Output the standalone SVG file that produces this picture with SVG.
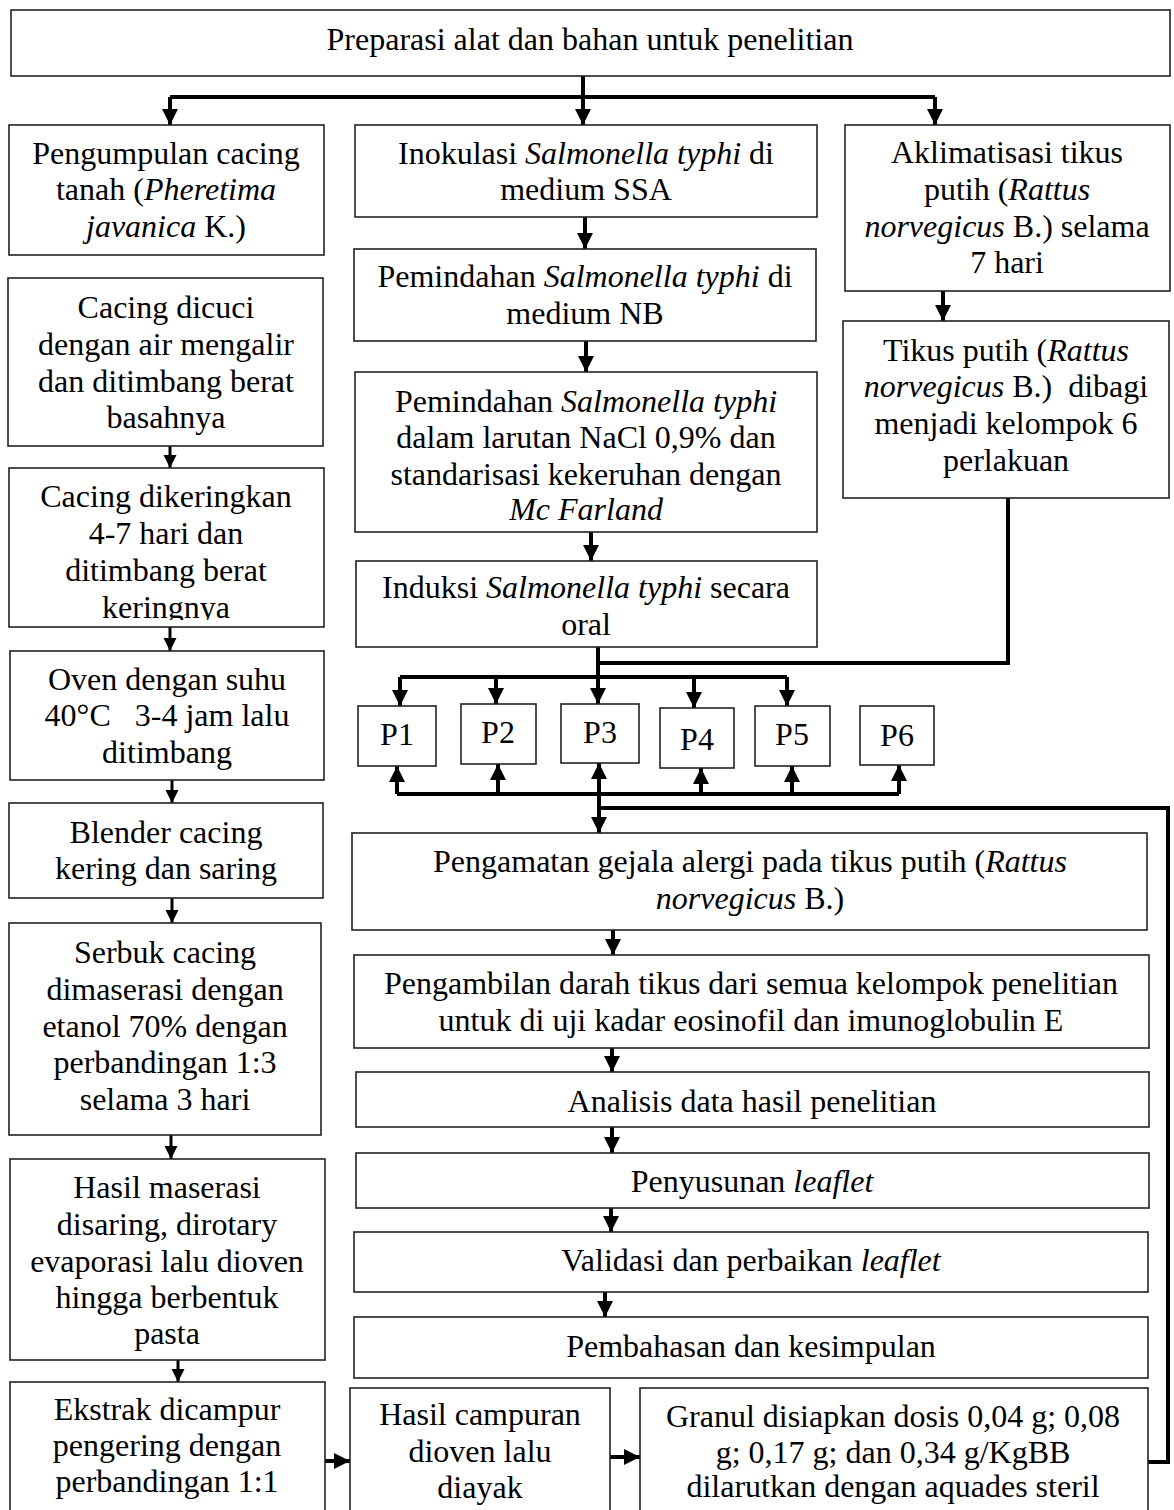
<svg xmlns="http://www.w3.org/2000/svg" width="1174" height="1510" viewBox="0 0 1174 1510">
<style>
  .box { fill: #ffffff; stroke: #222222; stroke-width: 1.6; }
  .t { font-family: "Liberation Serif", "Times New Roman", serif; font-size: 32px; fill: #000000; text-anchor: middle; }
  .i { font-style: italic; }
  .c { fill: none; stroke: #000000; stroke-width: 4; }
  .a { fill: none; stroke: #000000; stroke-width: 4; marker-end: url(#ah); }
  .as { fill: none; stroke: #000000; stroke-width: 3; marker-end: url(#ahs); }
</style>
<defs>
  <marker id="ah" markerWidth="17" markerHeight="18" refX="16" refY="9" orient="auto" markerUnits="userSpaceOnUse">
    <path d="M0,1 L16,9 L0,17 z" fill="#000"/>
  </marker>
  <marker id="ahs" markerWidth="14" markerHeight="14" refX="13" refY="7" orient="auto" markerUnits="userSpaceOnUse">
    <path d="M0,0.5 L13,7 L0,13.5 z" fill="#000"/>
  </marker>
  <clipPath id="clip3"><rect x="9" y="468" width="315" height="152"/></clipPath>
</defs>
<rect x="0" y="0" width="1174" height="1510" fill="#ffffff"/>

<g id="connectors">
  <path class="c" d="M583,76 V97"/>
  <path class="c" d="M170,97 H935"/>
  <path class="a" d="M170,97 V125"/>
  <path class="a" d="M583,97 V125"/>
  <path class="a" d="M935,97 V125"/>
  <path class="a" d="M585,217 V249"/>
  <path class="a" d="M586,341 V372"/>
  <path class="a" d="M591,532 V561"/>
  <path class="c" d="M598,647 V677"/>
  <path class="a" d="M943,291 V321"/>
  <path class="c" d="M1008,498 V663 H598"/>
  <path class="c" d="M400,677 H787"/>
  <path class="a" d="M400,677 V706"/>
  <path class="a" d="M496,677 V704"/>
  <path class="a" d="M598,677 V704"/>
  <path class="a" d="M694,677 V708"/>
  <path class="a" d="M787,677 V706"/>
  <path class="c" d="M397,794 H899"/>
  <path class="a" d="M397,794 V766"/>
  <path class="a" d="M498,794 V764"/>
  <path class="a" d="M599,794 V763"/>
  <path class="a" d="M701,794 V768"/>
  <path class="a" d="M792,794 V766"/>
  <path class="a" d="M899,794 V765"/>
  <path class="c" d="M1148,1462 H1168 V808 H599"/>
  <path class="a" d="M599,794 V833"/>
  <path class="as" d="M170,446 V468"/>
  <path class="as" d="M170,627 V651"/>
  <path class="as" d="M172,780 V803"/>
  <path class="as" d="M172,898 V923"/>
  <path class="as" d="M171,1135 V1159"/>
  <path class="as" d="M178,1360 V1382"/>
  <path class="a" d="M325,1461 H350"/>
  <path class="a" d="M610,1457 H640"/>
  <path class="a" d="M613,930 V955"/>
  <path class="a" d="M612,1048 V1072"/>
  <path class="a" d="M612,1127 V1153"/>
  <path class="a" d="M611,1208 V1232"/>
  <path class="a" d="M605,1292 V1317"/>
</g>

<g id="n-top">
  <rect class="box" x="11" y="10" width="1159" height="66"/>
  <text class="t" x="590" y="50">Preparasi alat dan bahan untuk penelitian</text>
</g>

<g id="n-l1">
  <rect class="box" x="9" y="125" width="315" height="130"/>
  <text class="t" x="166" y="164">Pengumpulan cacing</text>
  <text class="t" x="166" y="200">tanah (<tspan class="i">Pheretima</tspan></text>
  <text class="t" x="166" y="237"><tspan class="i">javanica</tspan> K.)</text>
</g>

<g id="n-l2">
  <rect class="box" x="8" y="278" width="315" height="168"/>
  <text class="t" x="166" y="318">Cacing dicuci</text>
  <text class="t" x="166" y="355">dengan air mengalir</text>
  <text class="t" x="166" y="392">dan ditimbang berat</text>
  <text class="t" x="166" y="428">basahnya</text>
</g>

<g id="n-l3">
  <rect class="box" x="9" y="468" width="315" height="159"/>
  <g clip-path="url(#clip3)">
    <text class="t" x="166" y="507">Cacing dikeringkan</text>
    <text class="t" x="166" y="544">4-7 hari dan</text>
    <text class="t" x="166" y="581">ditimbang berat</text>
    <text class="t" x="166" y="618">keringnya</text>
  </g>
</g>

<g id="n-l4">
  <rect class="box" x="10" y="651" width="314" height="129"/>
  <text class="t" x="167" y="690">Oven dengan suhu</text>
  <text class="t" x="167" y="726" style="white-space:pre">40°C   3-4 jam lalu</text>
  <text class="t" x="167" y="763">ditimbang</text>
</g>

<g id="n-l5">
  <rect class="box" x="9" y="803" width="314" height="95"/>
  <text class="t" x="166" y="843">Blender cacing</text>
  <text class="t" x="166" y="879">kering dan saring</text>
</g>

<g id="n-l6">
  <rect class="box" x="9" y="923" width="312" height="212"/>
  <text class="t" x="165" y="963">Serbuk cacing</text>
  <text class="t" x="165" y="1000">dimaserasi dengan</text>
  <text class="t" x="165" y="1037">etanol 70% dengan</text>
  <text class="t" x="165" y="1073">perbandingan 1:3</text>
  <text class="t" x="165" y="1110">selama 3 hari</text>
</g>

<g id="n-l7">
  <rect class="box" x="10" y="1159" width="315" height="201"/>
  <text class="t" x="167" y="1198">Hasil maserasi</text>
  <text class="t" x="167" y="1235">disaring, dirotary</text>
  <text class="t" x="167" y="1272">evaporasi lalu dioven</text>
  <text class="t" x="167" y="1308">hingga berbentuk</text>
  <text class="t" x="167" y="1344">pasta</text>
</g>

<g id="n-l8">
  <rect class="box" x="10" y="1382" width="315" height="140"/>
  <text class="t" x="167" y="1420">Ekstrak dicampur</text>
  <text class="t" x="167" y="1456">pengering dengan</text>
  <text class="t" x="167" y="1492">perbandingan 1:1</text>
</g>

<g id="n-m1">
  <rect class="box" x="355" y="125" width="462" height="92"/>
  <text class="t" x="586" y="164">Inokulasi <tspan class="i">Salmonella typhi</tspan> di</text>
  <text class="t" x="586" y="200">medium SSA</text>
</g>

<g id="n-m2">
  <rect class="box" x="354" y="249" width="462" height="92"/>
  <text class="t" x="585" y="287">Pemindahan <tspan class="i">Salmonella typhi</tspan> di</text>
  <text class="t" x="585" y="324">medium NB</text>
</g>

<g id="n-m3">
  <rect class="box" x="355" y="372" width="462" height="160"/>
  <text class="t" x="586" y="412">Pemindahan <tspan class="i">Salmonella typhi</tspan></text>
  <text class="t" x="586" y="448">dalam larutan NaCl 0,9% dan</text>
  <text class="t" x="586" y="485">standarisasi kekeruhan dengan</text>
  <text class="t" x="586" y="520"><tspan class="i">Mc Farland</tspan></text>
</g>

<g id="n-m4">
  <rect class="box" x="356" y="561" width="461" height="86"/>
  <text class="t" x="586" y="598">Induksi <tspan class="i">Salmonella typhi</tspan> secara</text>
  <text class="t" x="586" y="635">oral</text>
</g>

<g id="n-r1">
  <rect class="box" x="845" y="125" width="325" height="166"/>
  <text class="t" x="1007" y="163">Aklimatisasi tikus</text>
  <text class="t" x="1007" y="200">putih (<tspan class="i">Rattus</tspan></text>
  <text class="t" x="1007" y="237"><tspan class="i">norvegicus</tspan> B.) selama</text>
  <text class="t" x="1007" y="273">7 hari</text>
</g>

<g id="n-r2">
  <rect class="box" x="843" y="321" width="326" height="177"/>
  <text class="t" x="1006" y="361">Tikus putih (<tspan class="i">Rattus</tspan></text>
  <text class="t" x="1006" y="397" style="white-space:pre"><tspan class="i">norvegicus</tspan> B.)  dibagi</text>
  <text class="t" x="1006" y="434">menjadi kelompok 6</text>
  <text class="t" x="1006" y="471">perlakuan</text>
</g>

<g id="n-p1"><rect class="box" x="358" y="706" width="78" height="60"/><text class="t" x="397" y="745">P1</text></g>
<g id="n-p2"><rect class="box" x="461" y="704" width="75" height="60"/><text class="t" x="498" y="743">P2</text></g>
<g id="n-p3"><rect class="box" x="561" y="704" width="78" height="59"/><text class="t" x="600" y="743">P3</text></g>
<g id="n-p4"><rect class="box" x="660" y="708" width="74" height="60"/><text class="t" x="697" y="750">P4</text></g>
<g id="n-p5"><rect class="box" x="755" y="706" width="75" height="60"/><text class="t" x="792" y="745">P5</text></g>
<g id="n-p6"><rect class="box" x="860" y="706" width="74" height="59"/><text class="t" x="897" y="746">P6</text></g>

<g id="n-b1">
  <rect class="box" x="352" y="833" width="795" height="97"/>
  <text class="t" x="750" y="872">Pengamatan gejala alergi pada tikus putih (<tspan class="i">Rattus</tspan></text>
  <text class="t" x="750" y="909"><tspan class="i">norvegicus</tspan> B.)</text>
</g>

<g id="n-b2">
  <rect class="box" x="354" y="955" width="795" height="93"/>
  <text class="t" x="751" y="994">Pengambilan darah tikus dari semua kelompok penelitian</text>
  <text class="t" x="751" y="1031">untuk di uji kadar eosinofil dan imunoglobulin E</text>
</g>

<g id="n-b3">
  <rect class="box" x="356" y="1072" width="793" height="55"/>
  <text class="t" x="752" y="1112">Analisis data hasil penelitian</text>
</g>

<g id="n-b4">
  <rect class="box" x="356" y="1153" width="793" height="55"/>
  <text class="t" x="752" y="1192">Penyusunan <tspan class="i">leaflet</tspan></text>
</g>

<g id="n-b5">
  <rect class="box" x="354" y="1232" width="794" height="60"/>
  <text class="t" x="751" y="1271">Validasi dan perbaikan <tspan class="i">leaflet</tspan></text>
</g>

<g id="n-b6">
  <rect class="box" x="354" y="1317" width="794" height="61"/>
  <text class="t" x="751" y="1357">Pembahasan dan kesimpulan</text>
</g>

<g id="n-hasil">
  <rect class="box" x="350" y="1388" width="260" height="134"/>
  <text class="t" x="480" y="1425">Hasil campuran</text>
  <text class="t" x="480" y="1462">dioven lalu</text>
  <text class="t" x="480" y="1498">diayak</text>
</g>

<g id="n-granul">
  <rect class="box" x="640" y="1388" width="508" height="134"/>
  <text class="t" x="893" y="1427">Granul disiapkan dosis 0,04 g; 0,08</text>
  <text class="t" x="893" y="1463">g; 0,17 g; dan 0,34 g/KgBB</text>
  <text class="t" x="893" y="1497">dilarutkan dengan aquades steril</text>
</g>
</svg>
